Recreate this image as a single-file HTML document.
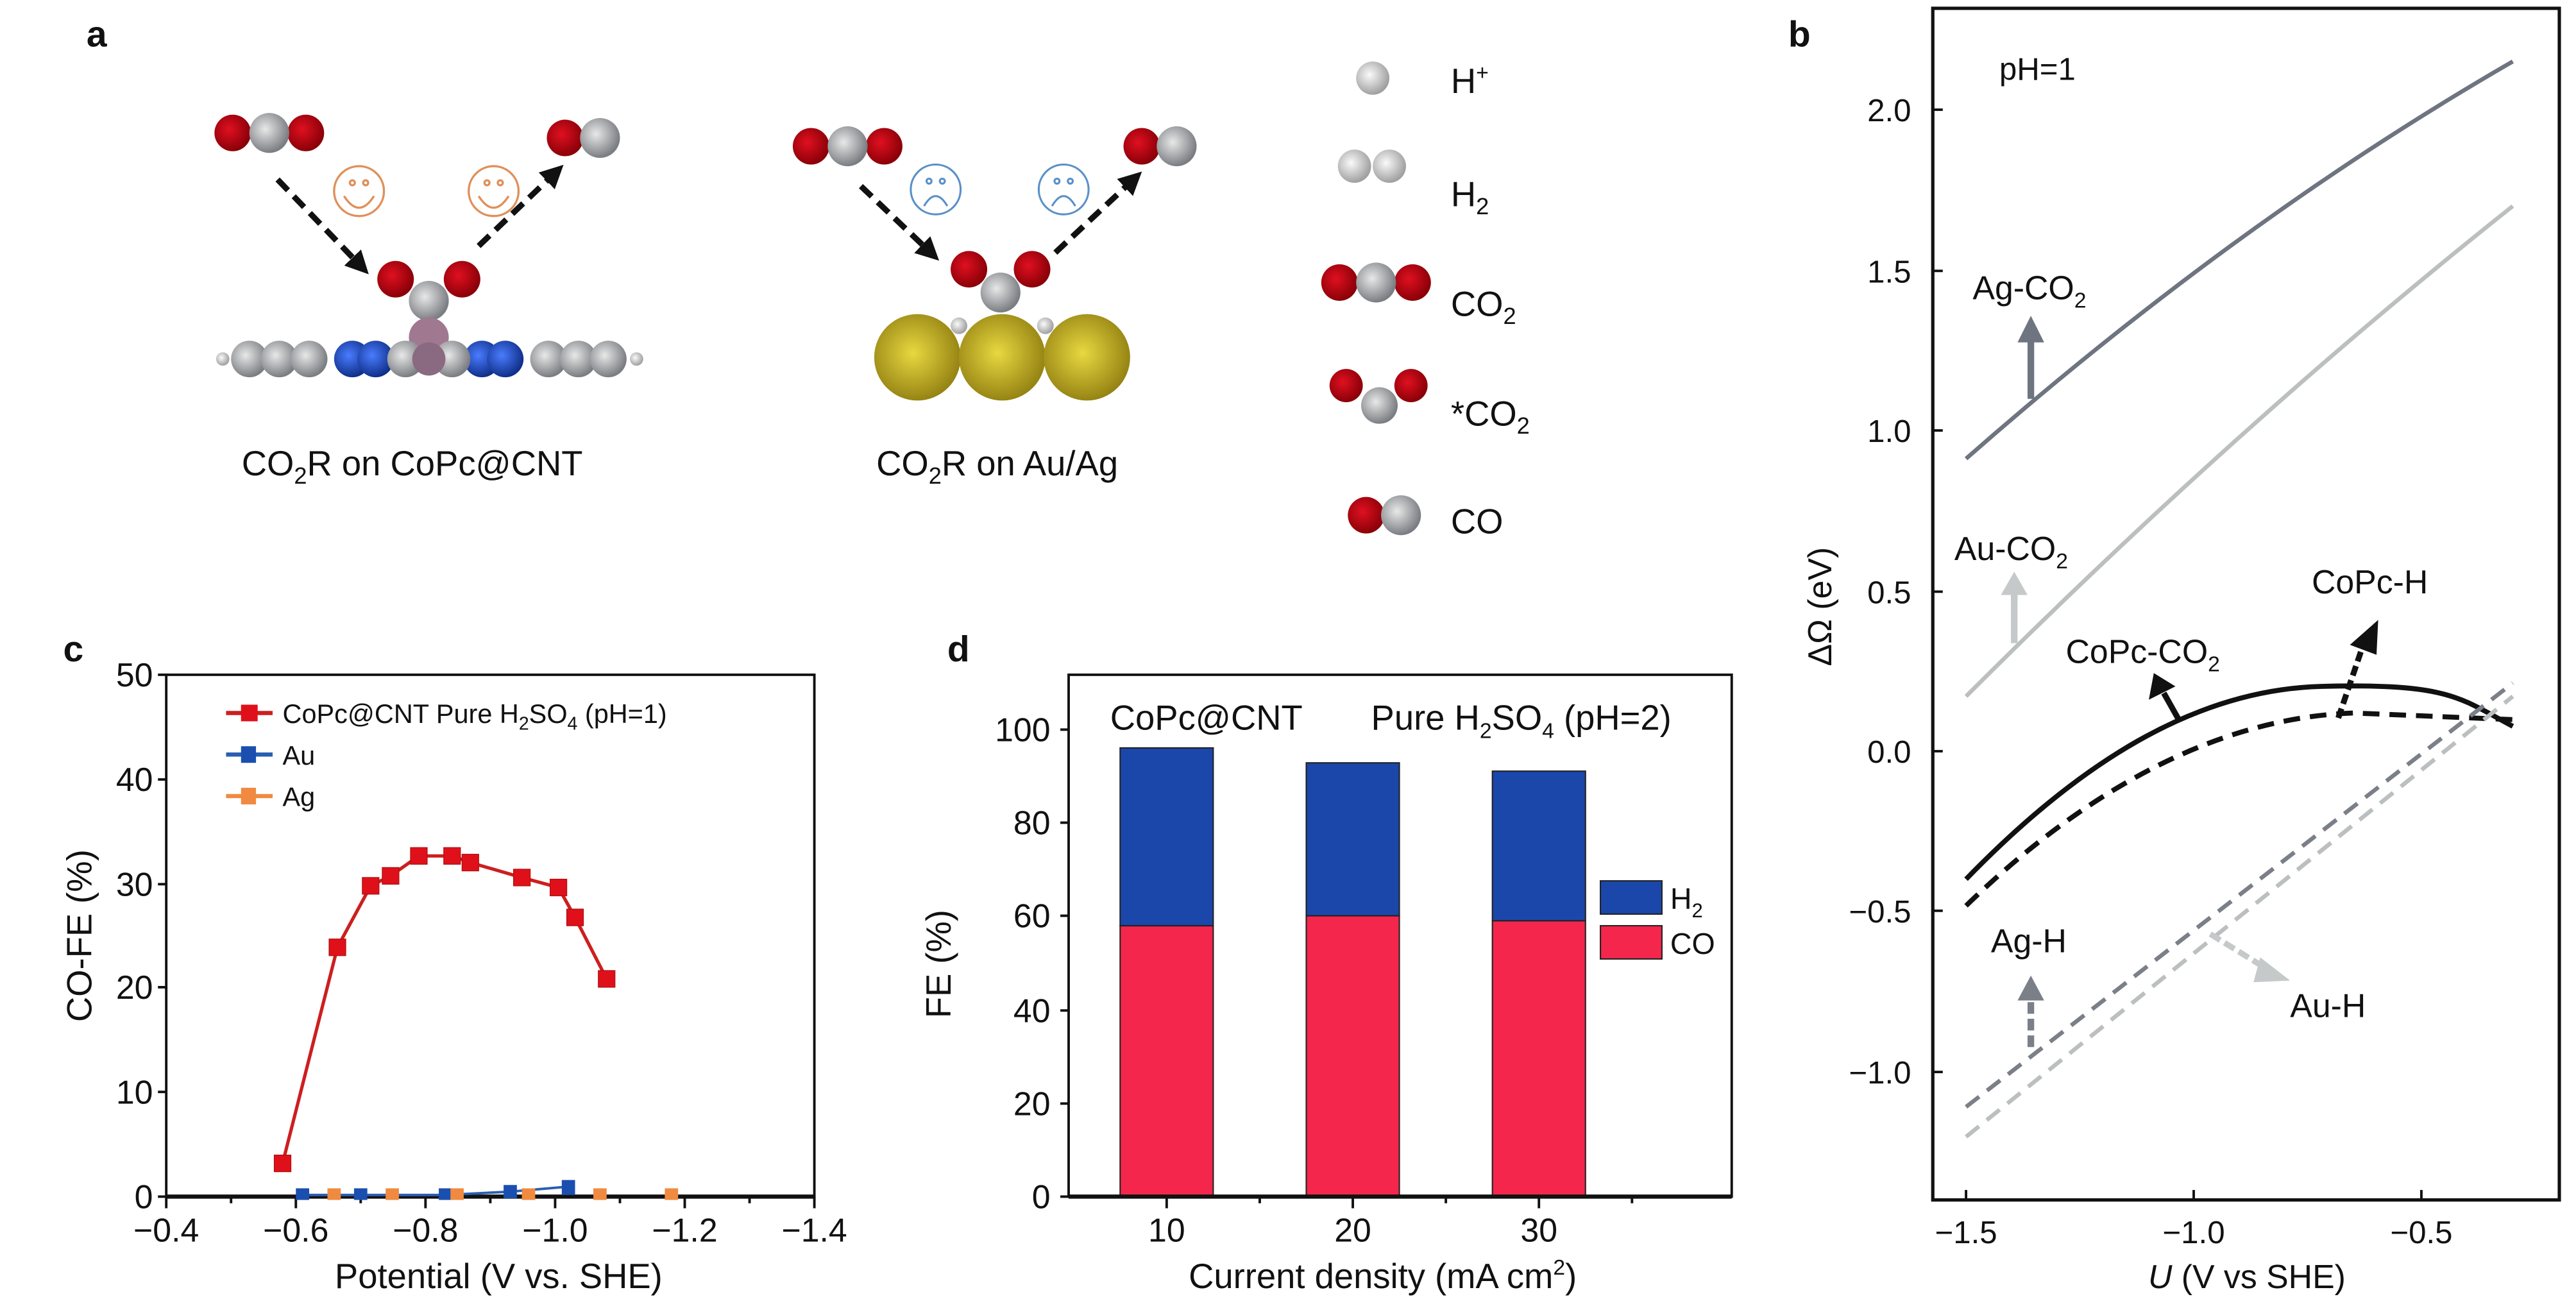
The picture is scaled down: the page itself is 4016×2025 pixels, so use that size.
<!DOCTYPE html>
<html><head><meta charset="utf-8"><style>
html,body{margin:0;padding:0;background:#fff;}
svg{display:block;font-family:"Liberation Sans","DejaVu Sans",sans-serif;}
.cn{font-family:"Liberation Sans Narrow","Liberation Sans",sans-serif;}
</style></head><body>
<svg width="4016" height="2025" viewBox="0 0 1550 781.6" xmlns="http://www.w3.org/2000/svg">
<defs>
<radialGradient id="gr" cx="0.4" cy="0.4" r="0.6"><stop offset="0" stop-color="#e8e8e8"/><stop offset="1" stop-color="#7a7d82"/></radialGradient>
<radialGradient id="rd" cx="0.4" cy="0.4" r="0.6"><stop offset="0" stop-color="#e01020"/><stop offset="1" stop-color="#8a0008"/></radialGradient>
<radialGradient id="lg" cx="0.4" cy="0.4" r="0.6"><stop offset="0" stop-color="#fafafa"/><stop offset="1" stop-color="#a0a0a0"/></radialGradient>
<radialGradient id="au" cx="0.45" cy="0.45" r="0.6"><stop offset="0" stop-color="#e8d840"/><stop offset="1" stop-color="#8f7d10"/></radialGradient>
<radialGradient id="bl" cx="0.4" cy="0.4" r="0.6"><stop offset="0" stop-color="#4a7cff"/><stop offset="1" stop-color="#10308a"/></radialGradient>
<marker id="ah" viewBox="0 0 10 10" refX="5" refY="5" markerWidth="4" markerHeight="4" orient="auto"><path d="M0,0L10,5L0,10z" fill="#111"/></marker>
</defs>
<style>text{fill:#111}</style>
<text x="52" y="28" font-size="22" font-weight="bold">a</text>
<text x="1076" y="28" font-size="22" font-weight="bold">b</text>
<text x="38" y="398" font-size="22" font-weight="bold">c</text>
<text x="570" y="398" font-size="22" font-weight="bold">d</text>

<!-- panel a left -->
<circle cx="140" cy="80" r="11" fill="url(#rd)"/><circle cx="184" cy="80" r="11" fill="url(#rd)"/><circle cx="162" cy="80" r="12" fill="url(#gr)"/>
<circle cx="340" cy="83" r="11" fill="url(#rd)"/><circle cx="361" cy="83" r="12" fill="url(#gr)"/>
<line x1="167" y1="108" x2="217" y2="160" stroke="#111" stroke-width="3.5" stroke-dasharray="9,5" marker-end="url(#ah)"/>
<line x1="288" y1="148" x2="334" y2="104" stroke="#111" stroke-width="3.5" stroke-dasharray="9,5" marker-end="url(#ah)"/>
<g fill="none" stroke="#e0905a" stroke-width="1.3"><circle cx="216" cy="115" r="15"/><circle cx="297" cy="115" r="15"/><path d="M207,118 Q216,132 225,118"/><path d="M288,118 Q297,132 306,118"/><circle cx="212" cy="110" r="1.5"/><circle cx="220" cy="110" r="1.5"/><circle cx="293" cy="110" r="1.5"/><circle cx="301" cy="110" r="1.5"/></g>
<circle cx="238" cy="168" r="11" fill="url(#rd)"/><circle cx="278" cy="168" r="11" fill="url(#rd)"/><circle cx="258" cy="181" r="12" fill="url(#gr)"/>
<circle cx="258" cy="203" r="12" fill="#a07890"/>
<g>
<circle cx="134" cy="216" r="4" fill="url(#lg)"/>
<circle cx="150" cy="216" r="11" fill="url(#gr)"/><circle cx="168" cy="216" r="11" fill="url(#gr)"/><circle cx="186" cy="216" r="11" fill="url(#gr)"/>
<circle cx="212" cy="216" r="11" fill="url(#bl)"/><circle cx="226" cy="216" r="11" fill="url(#bl)"/><circle cx="290" cy="216" r="11" fill="url(#bl)"/><circle cx="304" cy="216" r="11" fill="url(#bl)"/>
<circle cx="244" cy="216" r="11" fill="url(#gr)"/><circle cx="272" cy="216" r="11" fill="url(#gr)"/><circle cx="258" cy="216" r="10" fill="#8a6a80"/>
<circle cx="330" cy="216" r="11" fill="url(#gr)"/><circle cx="348" cy="216" r="11" fill="url(#gr)"/><circle cx="366" cy="216" r="11" fill="url(#gr)"/>
<circle cx="383" cy="216" r="4" fill="url(#lg)"/>
</g>
<text x="248" y="286" font-size="21" text-anchor="middle">CO<tspan font-size="14" dy="5">2</tspan><tspan dy="-5">R on CoPc@CNT</tspan></text>

<!-- panel a middle -->
<circle cx="488" cy="88" r="11" fill="url(#rd)"/><circle cx="532" cy="88" r="11" fill="url(#rd)"/><circle cx="510" cy="88" r="12" fill="url(#gr)"/>
<circle cx="687" cy="88" r="11" fill="url(#rd)"/><circle cx="708" cy="88" r="12" fill="url(#gr)"/>
<line x1="518" y1="112" x2="560" y2="152" stroke="#111" stroke-width="3.5" stroke-dasharray="9,5" marker-end="url(#ah)"/>
<line x1="635" y1="152" x2="682" y2="108" stroke="#111" stroke-width="3.5" stroke-dasharray="9,5" marker-end="url(#ah)"/>
<g fill="none" stroke="#5a90c8" stroke-width="1.2"><circle cx="563" cy="114" r="15"/><circle cx="640" cy="114" r="15"/><path d="M556,124 Q563,112 570,124"/><path d="M633,124 Q640,112 647,124"/><circle cx="559" cy="109" r="1.5"/><circle cx="567" cy="109" r="1.5"/><circle cx="636" cy="109" r="1.5"/><circle cx="644" cy="109" r="1.5"/></g>
<circle cx="583" cy="162" r="11" fill="url(#rd)"/><circle cx="621" cy="162" r="11" fill="url(#rd)"/><circle cx="602" cy="176" r="12" fill="url(#gr)"/>
<circle cx="577" cy="196" r="5" fill="url(#lg)"/><circle cx="629" cy="196" r="5" fill="url(#lg)"/>
<circle cx="552" cy="215" r="26" fill="url(#au)"/><circle cx="603" cy="215" r="26" fill="url(#au)"/><circle cx="654" cy="215" r="26" fill="url(#au)"/>
<text x="600" y="286" font-size="21" text-anchor="middle">CO<tspan font-size="14" dy="5">2</tspan><tspan dy="-5">R on Au/Ag</tspan></text>

<!-- panel a legend -->
<circle cx="826" cy="47" r="10" fill="url(#lg)"/>
<circle cx="815" cy="100" r="10" fill="url(#lg)"/><circle cx="836" cy="100" r="10" fill="url(#lg)"/>
<circle cx="806" cy="170" r="11" fill="url(#rd)"/><circle cx="850" cy="170" r="11" fill="url(#rd)"/><circle cx="828" cy="170" r="12" fill="url(#gr)"/>
<circle cx="810" cy="232" r="10" fill="url(#rd)"/><circle cx="849" cy="232" r="10" fill="url(#rd)"/><circle cx="830" cy="244" r="11" fill="url(#gr)"/>
<circle cx="822" cy="310" r="11" fill="url(#rd)"/><circle cx="843" cy="310" r="12" fill="url(#gr)"/>
<text x="873" y="56" font-size="21">H<tspan font-size="13" dy="-8">+</tspan></text>
<text x="873" y="124" font-size="21">H<tspan font-size="14" dy="5">2</tspan></text>
<text x="873" y="190" font-size="21">CO<tspan font-size="14" dy="5">2</tspan></text>
<text x="873" y="256" font-size="21">*CO<tspan font-size="14" dy="5">2</tspan></text>
<text x="873" y="321" font-size="21">CO</text>

<!-- panel b -->
<rect x="1163" y="5" width="377" height="717" fill="none" stroke="#111" stroke-width="2"/>
<g stroke="#111" stroke-width="1.5">
<line x1="1163" y1="66" x2="1169" y2="66"/><line x1="1163" y1="163" x2="1169" y2="163"/><line x1="1163" y1="259" x2="1169" y2="259"/><line x1="1163" y1="356" x2="1169" y2="356"/><line x1="1163" y1="452" x2="1169" y2="452"/><line x1="1163" y1="548" x2="1169" y2="548"/><line x1="1163" y1="645" x2="1169" y2="645"/>
<line x1="1183" y1="722" x2="1183" y2="716"/><line x1="1320" y1="722" x2="1320" y2="716"/><line x1="1457" y1="722" x2="1457" y2="716"/>
</g>
<g font-size="19" text-anchor="end">
<text x="1150" y="73">2.0</text><text x="1150" y="170">1.5</text><text x="1150" y="266">1.0</text><text x="1150" y="363">0.5</text><text x="1150" y="459">0.0</text><text x="1150" y="555">−0.5</text><text x="1150" y="652">−1.0</text>
</g>
<g font-size="19" text-anchor="middle"><text x="1183" y="748">−1.5</text><text x="1320" y="748">−1.0</text><text x="1457" y="748">−0.5</text></g>
<text x="1352" y="775" font-size="20" text-anchor="middle"><tspan font-style="italic">U</tspan> (V vs SHE)</text>
<text transform="translate(1102,365) rotate(-90)" font-size="20" text-anchor="middle">ΔΩ (eV)</text>
<text x="1203" y="48" font-size="19">pH=1</text>
<path d="M1183,276 Q1347,132 1512,37" fill="none" stroke="#6e7480" stroke-width="2.5"/>
<path d="M1183,419 Q1347,255 1512,124" fill="none" stroke="#bcbfbf" stroke-width="2.5"/>
<path d="M1183,529 C1250,460 1320,415 1397,413 S1480,420 1512,437" fill="none" stroke="#111" stroke-width="3"/>
<path d="M1183,545 C1250,480 1330,432 1416,429 L1512,433" fill="none" stroke="#111" stroke-width="3" stroke-dasharray="10,6"/>
<line x1="1183" y1="666" x2="1512" y2="411" stroke="#7a7f88" stroke-width="2.5" stroke-dasharray="10,6"/>
<line x1="1183" y1="684" x2="1512" y2="419" stroke="#bcbfbf" stroke-width="2.5" stroke-dasharray="10,6"/>
<line x1="1222" y1="240" x2="1222" y2="205" stroke="#6e7480" stroke-width="4"/><path d="M1214,206 L1222,190 L1230,206z" fill="#6e7480"/>
<line x1="1212" y1="387" x2="1212" y2="357" stroke="#c6c9c9" stroke-width="4"/><path d="M1204,358 L1212,344 L1220,358z" fill="#c6c9c9"/>
<line x1="1311" y1="433" x2="1302" y2="417" stroke="#111" stroke-width="3.5"/><path d="M1293,421 L1296,405 L1309,413z" fill="#111"/>
<line x1="1407" y1="432" x2="1422" y2="388" stroke="#111" stroke-width="3.5" stroke-dasharray="6,3"/><path d="M1414,388 L1431,373 L1430,394z" fill="#111"/>
<line x1="1222" y1="630" x2="1222" y2="600" stroke="#7a7f88" stroke-width="4" stroke-dasharray="7,3"/><path d="M1214,602 L1222,587 L1230,602z" fill="#7a7f88"/>
<line x1="1330" y1="562" x2="1364" y2="583" stroke="#c6c9c9" stroke-width="3.5" stroke-dasharray="7,3"/><path d="M1360,576 L1378,590 L1356,591z" fill="#c6c9c9"/>
<g font-size="20">
<text x="1187" y="180">Ag-CO<tspan font-size="13" dy="5">2</tspan></text>
<text x="1176" y="337">Au-CO<tspan font-size="13" dy="5">2</tspan></text>
<text x="1243" y="399">CoPc-CO<tspan font-size="13" dy="5">2</tspan></text>
<text x="1391" y="357">CoPc-H</text>
<text x="1198" y="573">Ag-H</text>
<text x="1378" y="612">Au-H</text>
</g>

<!-- panel c -->
<g class="cn">
<rect x="100" y="406" width="390" height="314" fill="none" stroke="#111" stroke-width="1.5"/>
<line x1="100" y1="720" x2="490" y2="720" stroke="#111" stroke-width="2.5"/>
<g stroke="#111" stroke-width="1.5">
<line x1="100" y1="720" x2="100" y2="727"/><line x1="178" y1="720" x2="178" y2="727"/><line x1="256" y1="720" x2="256" y2="727"/><line x1="334" y1="720" x2="334" y2="727"/><line x1="412" y1="720" x2="412" y2="727"/><line x1="490" y1="720" x2="490" y2="727"/>
<line x1="139" y1="720" x2="139" y2="724"/><line x1="217" y1="720" x2="217" y2="724"/><line x1="295" y1="720" x2="295" y2="724"/><line x1="373" y1="720" x2="373" y2="724"/><line x1="451" y1="720" x2="451" y2="724"/>
<line x1="95" y1="406" x2="100" y2="406"/><line x1="95" y1="469" x2="100" y2="469"/><line x1="95" y1="532" x2="100" y2="532"/><line x1="95" y1="594" x2="100" y2="594"/><line x1="95" y1="657" x2="100" y2="657"/><line x1="95" y1="720" x2="100" y2="720"/>
</g>
<g font-size="20" text-anchor="end">
<text x="92" y="413">50</text><text x="92" y="476">40</text><text x="92" y="539">30</text><text x="92" y="601">20</text><text x="92" y="664">10</text><text x="92" y="727">0</text>
</g>
<g font-size="20" text-anchor="middle">
<text x="100" y="747">−0.4</text><text x="178" y="747">−0.6</text><text x="256" y="747">−0.8</text><text x="334" y="747">−1.0</text><text x="412" y="747">−1.2</text><text x="490" y="747">−1.4</text>
</g>
<text x="300" y="775" font-size="21" text-anchor="middle">Potential (V vs. SHE)</text>
<text transform="translate(55,563) rotate(-90)" font-size="21" text-anchor="middle">CO-FE (%)</text>
<polyline points="170,700 203,570 223,533 235,527 252,515 272,515 283,519 314,528 336,534 346,552 365,589" fill="none" stroke="#cc1f1f" stroke-width="2"/>
<g fill="#e0101a" stroke="#b01010" stroke-width="0.5">
<rect x="165" y="695" width="10" height="10"/><rect x="198" y="565" width="10" height="10"/><rect x="218" y="528" width="10" height="10"/><rect x="230" y="522" width="10" height="10"/><rect x="247" y="510" width="10" height="10"/><rect x="267" y="510" width="10" height="10"/><rect x="278" y="514" width="10" height="10"/><rect x="309" y="523" width="10" height="10"/><rect x="331" y="529" width="10" height="10"/><rect x="341" y="547" width="10" height="10"/><rect x="360" y="584" width="10" height="10"/>
</g>
<polyline points="182,719 217,719 268,719 307,717 342,714" fill="none" stroke="#2a5fb0" stroke-width="1.5"/>
<g fill="#1a4fb0"><rect x="178" y="715" width="8" height="7"/><rect x="213" y="715" width="8" height="7"/><rect x="264" y="715" width="8" height="7"/><rect x="303" y="713" width="8" height="8"/><rect x="338" y="710" width="8" height="9"/></g>
<g fill="#f08a40"><rect x="197" y="715" width="8" height="7"/><rect x="232" y="715" width="8" height="7"/><rect x="271" y="715" width="8" height="7"/><rect x="314" y="715" width="8" height="7"/><rect x="357" y="715" width="8" height="7"/><rect x="400" y="715" width="8" height="7"/></g>
<line x1="136" y1="429" x2="164" y2="429" stroke="#cc1f1f" stroke-width="2.5"/><rect x="145" y="424" width="10" height="10" fill="#e0101a"/>
<line x1="136" y1="454" x2="164" y2="454" stroke="#2a5fb0" stroke-width="2.5"/><rect x="145" y="449" width="9" height="10" fill="#1a4fb0"/>
<line x1="136" y1="479" x2="164" y2="479" stroke="#f08a40" stroke-width="2.5"/><rect x="145" y="474" width="9" height="10" fill="#f08a40"/>
<g font-size="16"><text x="170" y="435">CoPc@CNT  Pure H<tspan font-size="11" dy="4">2</tspan><tspan dy="-4">SO</tspan><tspan font-size="11" dy="4">4</tspan><tspan dy="-4"> (pH=1)</tspan></text>
<text x="170" y="460">Au</text><text x="170" y="485">Ag</text></g>
</g>

<!-- panel d -->
<g class="cn">
<rect x="674" y="557" width="56" height="163" fill="#f5264c" stroke="#222" stroke-width="0.8"/>
<rect x="674" y="450" width="56" height="107" fill="#1b47ab" stroke="#222" stroke-width="0.8"/>
<rect x="786" y="551" width="56" height="169" fill="#f5264c" stroke="#222" stroke-width="0.8"/>
<rect x="786" y="459" width="56" height="92" fill="#1b47ab" stroke="#222" stroke-width="0.8"/>
<rect x="898" y="554" width="56" height="166" fill="#f5264c" stroke="#222" stroke-width="0.8"/>
<rect x="898" y="464" width="56" height="90" fill="#1b47ab" stroke="#222" stroke-width="0.8"/>
<rect x="643" y="406" width="399" height="314" fill="none" stroke="#111" stroke-width="1.5"/>
<line x1="643" y1="720" x2="1042" y2="720" stroke="#111" stroke-width="2.5"/>
<g stroke="#111" stroke-width="1.5">
<line x1="702" y1="720" x2="702" y2="727"/><line x1="814" y1="720" x2="814" y2="727"/><line x1="926" y1="720" x2="926" y2="727"/>
<line x1="758" y1="720" x2="758" y2="724"/><line x1="870" y1="720" x2="870" y2="724"/><line x1="982" y1="720" x2="982" y2="724"/>
<line x1="638" y1="720" x2="643" y2="720"/><line x1="638" y1="664" x2="643" y2="664"/><line x1="638" y1="608" x2="643" y2="608"/><line x1="638" y1="551" x2="643" y2="551"/><line x1="638" y1="495" x2="643" y2="495"/><line x1="638" y1="439" x2="643" y2="439"/>
</g>
<g font-size="20" text-anchor="end">
<text x="632" y="727">0</text><text x="632" y="671">20</text><text x="632" y="615">40</text><text x="632" y="558">60</text><text x="632" y="502">80</text><text x="632" y="446">100</text>
</g>
<g font-size="20" text-anchor="middle"><text x="702" y="747">10</text><text x="814" y="747">20</text><text x="926" y="747">30</text></g>
<text x="832" y="775" font-size="21" text-anchor="middle">Current density (mA cm<tspan font-size="13" dy="-8">2</tspan><tspan dy="8">)</tspan></text>
<text transform="translate(572,580) rotate(-90)" font-size="21" text-anchor="middle">FE (%)</text>
<text x="668" y="439" font-size="21">CoPc@CNT</text>
<text x="825" y="439" font-size="21">Pure H<tspan font-size="13" dy="5">2</tspan><tspan dy="-5">SO</tspan><tspan font-size="13" dy="5">4</tspan><tspan dy="-5">  (pH=2)</tspan></text>
<rect x="963" y="530" width="37" height="20" fill="#1b47ab" stroke="#222" stroke-width="0.8"/>
<rect x="963" y="557" width="37" height="20" fill="#f5264c" stroke="#222" stroke-width="0.8"/>
<text x="1005" y="547" font-size="18">H<tspan font-size="12" dy="5">2</tspan></text>
<text x="1005" y="574" font-size="18">CO</text>
</g>
</svg>
</body></html>
